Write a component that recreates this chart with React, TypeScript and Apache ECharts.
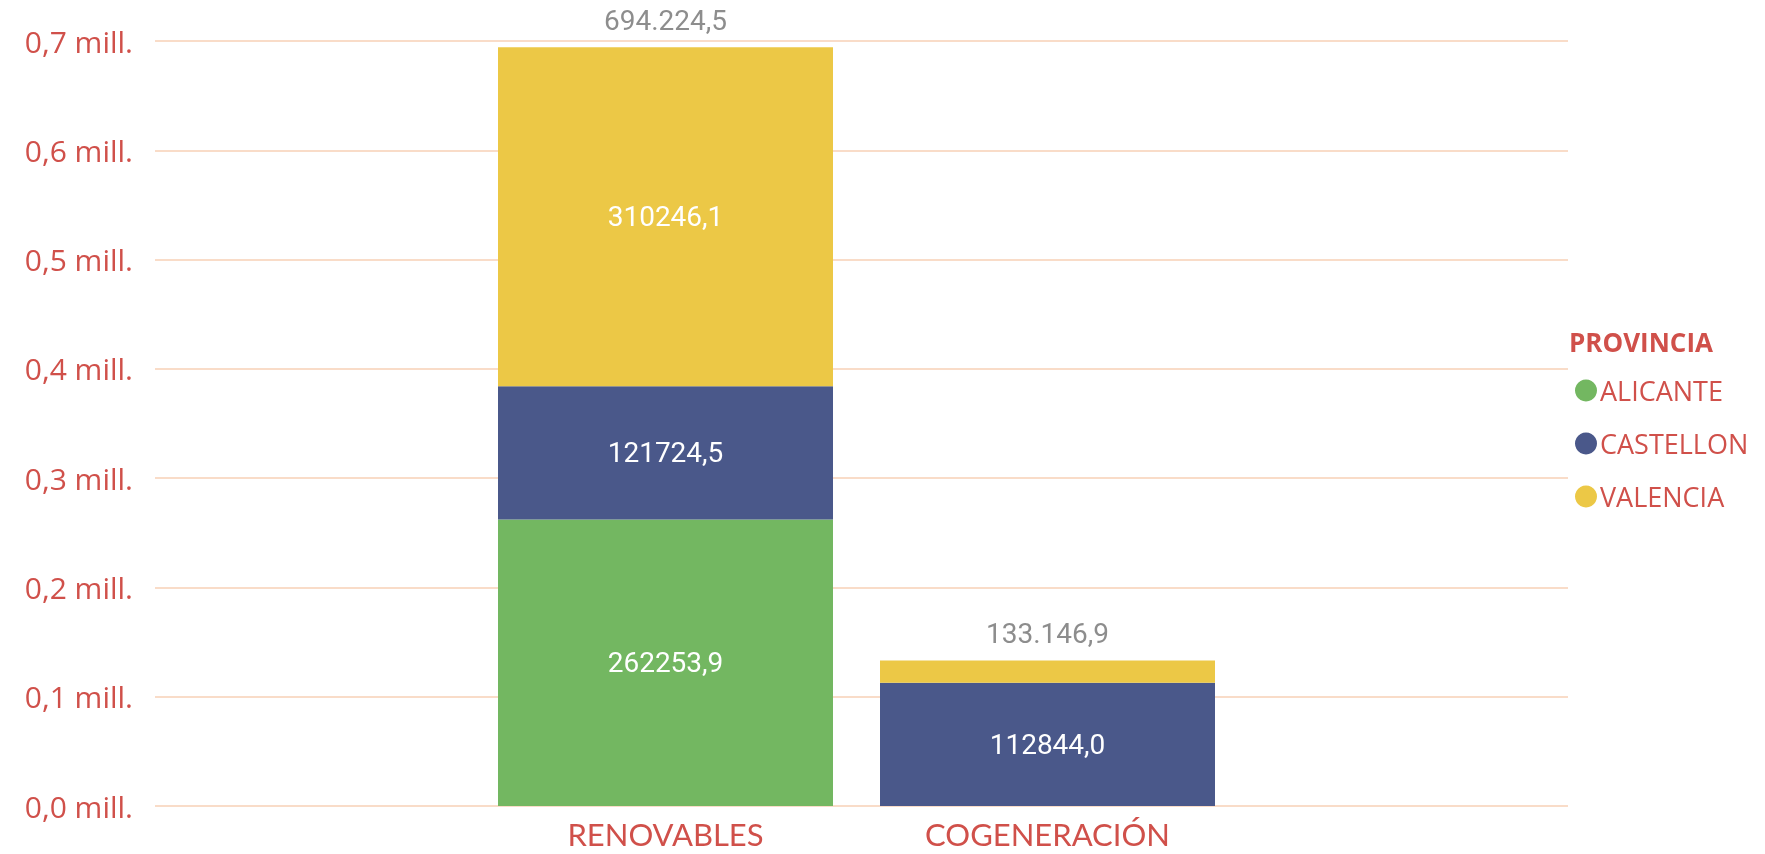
import React, { useEffect, useRef } from 'react';
import * as echarts from 'echarts';

const categories = ['RENOVABLES', 'COGENERACIÓN'];
const seriesNames = ['ALICANTE', 'CASTELLON', 'VALENCIA'];
const alicante: (number | null)[] = [262253.9, null];
const castellon: (number | null)[] = [121724.5, 112844.0];
const valencia: (number | null)[] = [310246.1, 20302.9];
const colors = ['#73B761', '#4A588A', '#ECC846'];
const yMin = 0;
const yMax = 700000;
const yInterval = 100000;
const legendTitle = 'PROVINCIA';

const RED = '#D0504A';
const GRID = '#F9DCC8';
const AXIS_FONT = '"Open Sans", "Noto Sans", sans-serif';
const CAT_FONT = 'Lato, "Open Sans", sans-serif';
const NUM_FONT = 'Roboto, "DejaVu Sans Condensed", sans-serif';

function fmtTotal(v: number): string {
  const [i, d] = v.toFixed(1).split('.');
  return i.replace(/\B(?=(\d{3})+(?!\d))/g, '.') + ',' + d;
}

export default function App() {
  const ref = useRef<HTMLDivElement>(null);
  useEffect(() => {
    const chart = echarts.init(ref.current!, null, { renderer: 'svg' });
    const totals = categories.map((_, i) =>
      [alicante, castellon, valencia].reduce((s, arr) => s + (arr[i] ?? 0), 0)
    );
    const inside = {
      show: true,
      position: 'inside',
      color: '#ffffff',
      fontFamily: NUM_FONT,
      fontSize: 28,
      formatter: (p: any) =>
        p.value == null || p.value < 50000 ? '' : Number(p.value).toFixed(1).replace('.', ','),
    };
    const option: any = {
      animation: false,
      color: colors,
      grid: [
        { left: 155, right: 197, top: 41, bottom: 48, containLabel: false },
        { left: 474.5, width: 764, top: 41, bottom: 48, containLabel: false },
      ],
      xAxis: [
        { type: 'category', gridIndex: 0, data: categories, show: false },
        {
          type: 'category',
          gridIndex: 1,
          data: categories,
          axisLine: { show: false },
          axisTick: { show: false },
          axisLabel: { color: RED, fontFamily: CAT_FONT, fontSize: 31, lineHeight: 30, margin: 13 },
        },
      ],
      yAxis: [
        {
          type: 'value',
          gridIndex: 0,
          min: yMin,
          max: yMax,
          interval: yInterval,
          axisLine: { show: false },
          axisTick: { show: false },
          splitLine: { lineStyle: { color: GRID, width: 2 } },
          axisLabel: {
            color: RED,
            fontFamily: AXIS_FONT,
            fontSize: 30,
            margin: 22,
            formatter: (v: number) => (v / 1e6).toFixed(1).replace('.', ',') + ' mill.',
          },
        },
        {
          type: 'value',
          gridIndex: 1,
          min: yMin,
          max: yMax,
          interval: yInterval,
          show: false,
          splitLine: { show: false },
        },
      ],
      legend: {
        data: seriesNames,
        orient: 'vertical',
        left: 1570,
        top: 372,
        icon: 'circle',
        itemWidth: 22,
        itemHeight: 22,
        itemGap: 26,
        selectedMode: false,
        textStyle: { color: RED, fontFamily: AXIS_FONT, fontSize: 27, padding: [0, 0, 0, -2] },
      },
      graphic: [
        {
          type: 'text',
          left: 1569,
          top: 329,
          style: {
            text: legendTitle,
            fill: RED,
            font: `bold 26px ${AXIS_FONT}`,
          },
        },
      ],
      series: [
        { name: seriesNames[0], type: 'bar', stack: 's', xAxisIndex: 1, yAxisIndex: 1, barWidth: 335, data: alicante, label: inside },
        { name: seriesNames[1], type: 'bar', stack: 's', xAxisIndex: 1, yAxisIndex: 1, barWidth: 335, data: castellon, label: inside },
        { name: seriesNames[2], type: 'bar', stack: 's', xAxisIndex: 1, yAxisIndex: 1, barWidth: 335, data: valencia, label: inside },
        {
          name: 'Total',
          type: 'scatter',
          xAxisIndex: 1,
          yAxisIndex: 1,
          symbolSize: 1,
          itemStyle: { color: 'rgba(0,0,0,0)' },
          data: totals,
          silent: true,
          label: {
            show: true,
            position: 'top',
            distance: 12,
            color: '#707070',
            fontFamily: NUM_FONT,
            fontSize: 28,
            formatter: (p: any) => fmtTotal(p.value),
          },
        },
      ],
    };
    chart.setOption(option);
    return () => chart.dispose();
  }, []);
  return <div ref={ref} style={{ position: 'fixed', left: 0, top: 0, width: 1765, height: 854 }} />;
}
